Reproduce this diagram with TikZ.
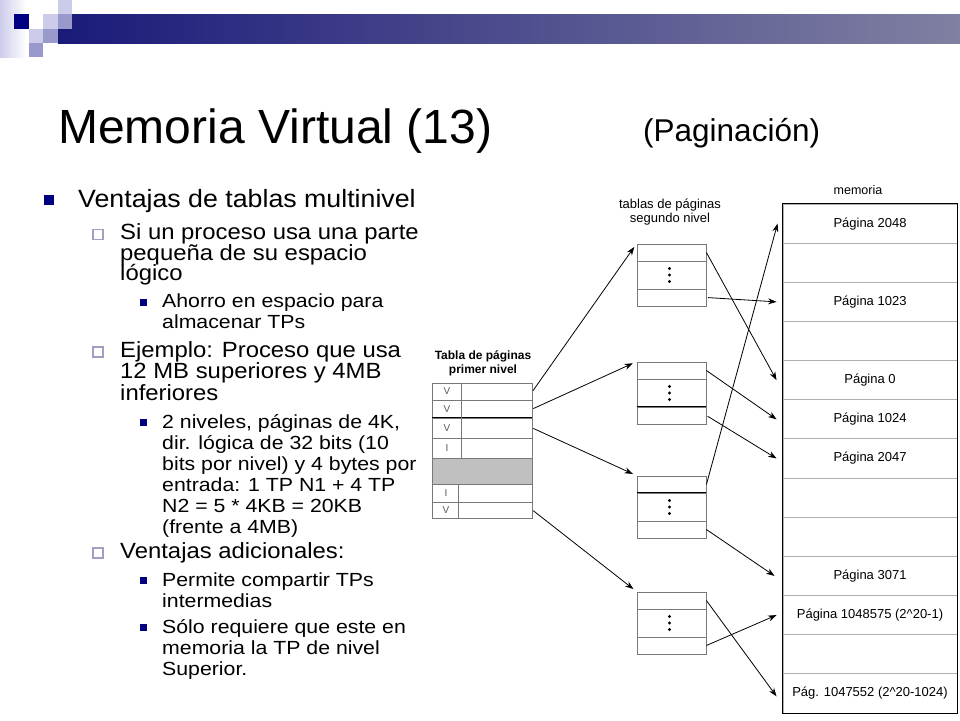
\documentclass[tikz,border=0pt]{standalone}
\usepackage{fontspec}
\setmainfont{Liberation Sans}
\newfontfamily\fA[FakeStretch=1.07]{Liberation Sans}
\newfontfamily\fB[FakeStretch=1.085]{Liberation Sans}
\newfontfamily\fC[FakeStretch=1.12]{Liberation Sans}
\usetikzlibrary{arrows.meta,calc}
\definecolor{slnavy}{RGB}{0,0,128}
\definecolor{sllight}{RGB}{204,204,234}
\definecolor{slmed}{RGB}{153,153,204}
\definecolor{slhollow}{RGB}{160,160,195}
\definecolor{barL}{RGB}{26,26,122}
\definecolor{barR}{RGB}{128,128,162}
\definecolor{tgray}{RGB}{120,120,120}
\definecolor{mgray}{RGB}{175,175,175}
\definecolor{cellgray}{RGB}{192,192,192}
\begin{document}
\begin{tikzpicture}[x=1pt,y=-1pt,
  txtA/.style={anchor=base west, inner sep=0pt, font=\fA\fontsize{25}{30}\selectfont},
  txtB/.style={anchor=base west, inner sep=0pt, font=\fB\fontsize{22}{24}\selectfont},
  txtC/.style={anchor=base west, inner sep=0pt, font=\fC\fontsize{19}{22}\selectfont},
  bulA/.style={fill=slnavy, minimum size=10pt, inner sep=0pt},
  bulB/.style={draw=slhollow, line width=1.2pt, fill=white, minimum size=10pt, inner sep=0pt},
  bulC/.style={fill=slnavy, minimum size=7pt, inner sep=0pt},
  frow/.style={draw=tgray, line width=0.8pt, minimum width=100pt, inner sep=0pt},
  srow/.style={draw=tgray, line width=0.8pt, minimum width=69pt, inner sep=0pt},
  memrow/.style={draw=mgray, line width=0.9pt, minimum width=174pt, minimum height=39.15pt, inner sep=0pt, font=\fontsize{13}{15}\selectfont},
  letter/.style={inner sep=0pt, text=black!65, font=\fontsize{10}{12}\selectfont},
  arr/.style={-{Stealth[length=8.5pt,width=6pt]}, line width=0.8pt},
  capt/.style={align=center, inner sep=0pt}
]
\useasboundingbox (0,0) rectangle (960,720);
\fill[white] (0,0) rectangle (960,720);

% header decoration
\shade[left color=sllight, right color=white] (0,0) rectangle (26,57);
\shade[left color=barL, right color=barR] (58,14) rectangle (960,43);
\fill[slnavy] (14,14) rectangle (29,29);
\fill[sllight] (43,14) rectangle (58,29);
\fill[sllight] (58,0) rectangle (72,14);
\fill[slmed] (58,14) rectangle (72,29);
\fill[sllight] (29,29) rectangle (43,43);
\fill[slmed] (43,29) rectangle (58,43);
\fill[slmed] (29,43) rectangle (43,57);

% title
\node[anchor=base west, inner sep=0pt, font=\fontsize{48}{56}\selectfont] (title) at (58,143) {Memoria Virtual (13)};
\node[anchor=base west, inner sep=0pt, font=\fontsize{31.5}{36}\selectfont] (subtitle) at (643,141) {(Paginación)};

% left text
\node[bulA] (ba1) at (49,199.5) {};
\node[txtA] (a1) at (78,207) {Ventajas de tablas multinivel};

\node[bulB] (bb1) at (98,234.5) {};
\node[txtB] (b1) at (120,239.5) {Si un proceso usa una parte};
\node[txtB] (b2) at (120,260) {pequeña de su espacio};
\node[txtB] (b3) at (120,280.5) {lógico};

\node[bulC] (bc1) at (143.5,302) {};
\node[txtC] (c1) at (162,307.5) {Ahorro en espacio para};
\node[txtC] (c2) at (162,328) {almacenar TPs};

\node[bulB] (bb2) at (98,352) {};
\node[txtB] (b4) at (120,357) {Ejemplo: Proceso que usa};
\node[txtB] (b5) at (120,378.5) {12 MB superiores y 4MB};
\node[txtB] (b6) at (120,400) {inferiores};

\node[bulC] (bc2) at (143.5,422.5) {};
\node[txtC] (c3) at (162,428) {2 niveles, páginas de 4K,};
\node[txtC] (c4) at (162,449) {dir. lógica de 32 bits (10};
\node[txtC] (c5) at (162,470) {bits por nivel) y 4 bytes por};
\node[txtC] (c6) at (162,491) {entrada: 1 TP N1 + 4 TP};
\node[txtC] (c7) at (162,512) {N2 = 5 * 4KB = 20KB};
\node[txtC] (c8) at (162,533) {(frente a 4MB)};

\node[bulB] (bb3) at (98,553) {};
\node[txtB] (b7) at (120,558) {Ventajas adicionales:};

\node[bulC] (bc3) at (143.5,580.5) {};
\node[txtC] (c9) at (162,586) {Permite compartir TPs};
\node[txtC] (c10) at (162,607) {intermedias};

\node[bulC] (bc4) at (143.5,627.5) {};
\node[txtC] (c11) at (162,633) {Sólo requiere que este en};
\node[txtC] (c12) at (162,654) {memoria la TP de nivel};
\node[txtC] (c13) at (162,675) {Superior.};

% first level table
\node[capt, font=\bfseries\fontsize{12}{14}\selectfont] (cap1) at (483,363) {Tabla de páginas\\primer nivel};
\node[frow, minimum height=17pt] (p1) at (482,391.5) {};
\node[frow, minimum height=18pt] (p2) at (482,409) {};
\node[frow, minimum height=20pt] (p3) at (482,428) {};
\node[frow, minimum height=20pt] (p4) at (482,448) {};
\node[frow, minimum height=26pt, fill=cellgray] (p5) at (482,471) {};
\node[frow, minimum height=18pt] (p6) at (482,493) {};
\node[frow, minimum height=16pt] (p7) at (482,510) {};
\draw[black, line width=0.9pt] (p3.north west) -- (p3.north east);
\draw[tgray, line width=0.8pt] ([xshift=30pt]p1.north west) -- ([xshift=30pt]p4.south west);
\draw[tgray, line width=0.8pt] ([xshift=27pt]p6.north west) -- ([xshift=27pt]p7.south west);
\node[letter] (l1) at (447,391.5) {V};
\node[letter] (l2) at (447,409) {V};
\node[letter] (l3) at (447,428) {V};
\node[letter] (l4) at (447,448) {I};
\node[letter] (l6) at (446,493) {I};
\node[letter] (l7) at (446,510) {V};

% second level tables
\node[capt, font=\fontsize{13}{12}\selectfont] (cap2) at (670,212) {tablas de páginas\\segundo nivel};
\foreach \k/\T in {1/244, 2/362, 3/476, 4/592} {
  \node[srow, minimum height=17pt] (t\k r1) at (671.5,\T+8.5) {};
  \node[srow, minimum height=28pt] (t\k r2) at (671.5,\T+31) {};
  \node[srow, minimum height=17pt] (t\k r3) at (671.5,\T+53.5) {};
  \fill ([xshift=-2pt,yshift=6.5pt]t\k r2.center) circle (1.6);
  \fill ([xshift=-2pt]t\k r2.center) circle (1.6);
  \fill ([xshift=-2pt,yshift=-6.5pt]t\k r2.center) circle (1.6);
}
\draw[black, line width=0.9pt] (t2r3.north west) -- (t2r3.north east);
\draw[black, line width=0.9pt] (t3r2.north west) -- (t3r2.north east);

% memory
\node[font=\fontsize{12.5}{14}\selectfont, inner sep=0pt] (memlbl) at (858,190) {memoria};
\foreach \i/\t in {1/Página 2048, 2/, 3/Página 1023, 4/, 5/Página 0, 6/Página 1024, 7/Página 2047, 8/, 9/, 10/Página 3071, 11/Página 1048575 (2\textasciicircum20-1), 12/, 13/Pág. 1047552 (2\textasciicircum20-1024)} {
  \node[memrow] (m\i) at (870,{204+39.15*(\i-0.5)}) {\raisebox{1pt}{\t}};
}
\draw[black, line width=1.1pt] (m1.north west) rectangle (m13.south east);

% arrows from first level
\draw[arr, shorten <=1pt, shorten >=4pt] (p1.east) -- (t1r1.north west);
\draw[arr, shorten <=1pt, shorten >=4pt] (p2.east) -- (t2r1.north west);
\draw[arr, shorten <=1pt, shorten >=4pt] (p3.east) -- (t3r1.north west);
\draw[arr, shorten <=1pt, shorten >=4pt] (p7.east) -- (t4r1.north west);

% arrows to memory
\draw[arr] (t1r1.east) -- ([xshift=-6pt]m5.west);
\draw[arr, shorten <=1.5pt] (t1r3.east) -- ([xshift=-6pt]m3.west);
\draw[arr] (t2r1.east) -- ([xshift=-6pt]m6.west);
\draw[arr, shorten <=1.5pt] (t2r3.east) -- ([xshift=-6pt]m7.west);
\draw[arr] (t3r1.east) -- ([xshift=-5pt]m1.west);
\draw[arr] (t3r3.east) -- ([xshift=-8pt]m10.west);
\draw[arr] (t4r1.east) -- ([xshift=-6pt,yshift=-3pt]m13.west);
\draw[arr] (t4r3.east) -- ([xshift=-6pt]m11.west);
\end{tikzpicture}
\end{document}
